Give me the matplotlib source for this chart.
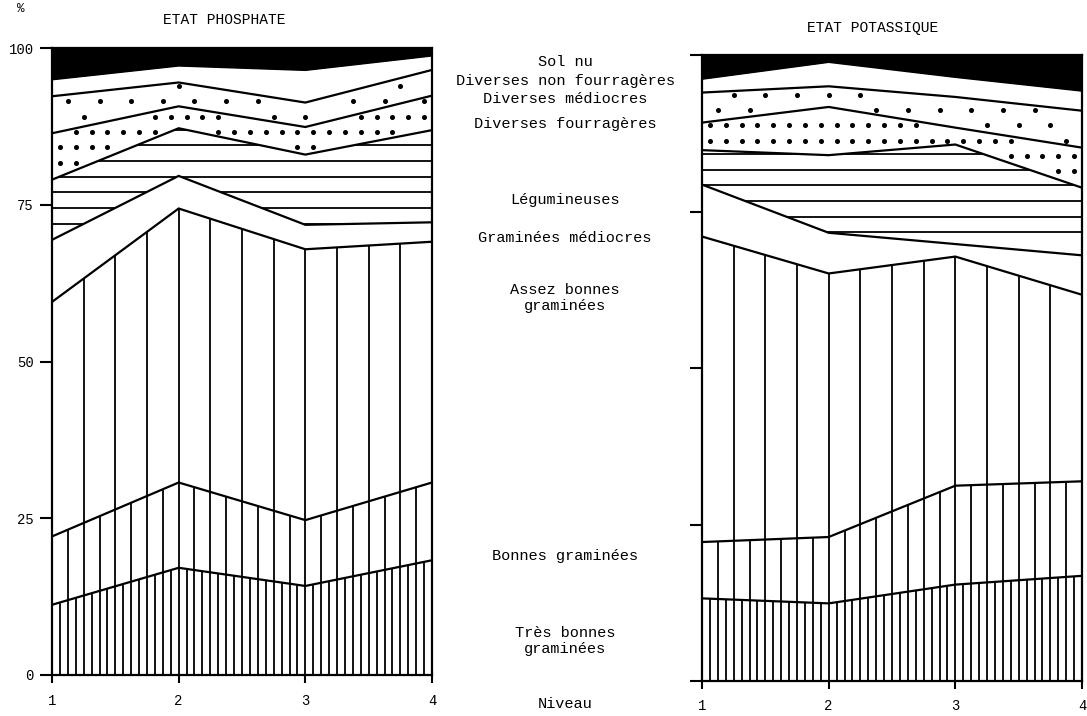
import numpy as np
import matplotlib
matplotlib.use("Agg")
import matplotlib.pyplot as plt
from matplotlib.patches import Polygon

# ---------------- data ----------------
levels = [1, 2, 3, 4]
level_labels = ["1", "2", "3", "4"]
categories = ["Très bonnes\ngraminées", "Bonnes graminées", "Assez bonnes\ngraminées",
              "Graminées médiocres", "Légumineuses", "Diverses fourragères",
              "Diverses médiocres", "Diverses non fourragères", "Sol nu"]
y_ticks = [0, 25, 50, 75, 100]
y_ticklabels = ["0", "25", "50", "75", "100"]

# Etat phosphate (% per category at each level)
phos_tres_bonnes = [11.2, 17.1, 14.2, 18.3]
phos_bonnes = [10.9, 13.6, 10.5, 12.4]
phos_assez_bonnes = [37.4, 43.7, 43.2, 38.4]
phos_gram_med = [9.9, 5.2, 3.9, 3.1]
phos_legum = [9.6, 7.6, 11.2, 14.7]
phos_div_fourr = [7.4, 3.5, 4.4, 5.5]
phos_div_med = [5.9, 3.8, 3.9, 4.1]
phos_div_non = [2.7, 2.7, 5.2, 2.3]
phos_sol_nu = [5.0, 2.8, 3.5, 1.2]

# Etat potassique
pot_tres_bonnes = [13.2, 12.4, 15.4, 16.8]
pot_bonnes = [9.0, 10.6, 15.8, 15.1]
pot_assez_bonnes = [48.8, 42.1, 36.6, 29.8]
pot_gram_med = [8.3, 6.5, 2.0, 6.3]
pot_legum = [5.5, 12.4, 15.9, 10.8]
pot_div_fourr = [4.4, 7.7, 2.7, 6.4]
pot_div_med = [4.8, 3.3, 4.9, 5.9]
pot_div_non = [2.2, 3.9, 3.2, 3.2]
pot_sol_nu = [3.8, 1.1, 3.5, 5.7]

phos = [phos_tres_bonnes, phos_bonnes, phos_assez_bonnes, phos_gram_med, phos_legum,
        phos_div_fourr, phos_div_med, phos_div_non, phos_sol_nu]
pot = [pot_tres_bonnes, pot_bonnes, pot_assez_bonnes, pot_gram_med, pot_legum,
       pot_div_fourr, pot_div_med, pot_div_non, pot_sol_nu]

FONT = ["Liberation Mono", "DejaVu Sans Mono"]
plt.rcParams["font.family"] = FONT

W, H = 1087, 716
fig = plt.figure(figsize=(W / 100, H / 100), dpi=100)


def fx(px):
    return px / W


def fy(py):
    return 1 - py / H


LW = 1.6
HLW = 1.3


def draw_chart(ax, series, show_labels, hline_start, xpad):
    x = np.array(levels, dtype=float)
    data = np.array(series, dtype=float)
    tops = np.cumsum(data, axis=0)
    bottoms = np.vstack([np.zeros(len(x)), tops[:-1]])

    def clip_patch(lo, hi):
        verts = np.column_stack([np.concatenate([x, x[::-1]]),
                                 np.concatenate([hi, lo[::-1]])])
        return Polygon(verts, closed=True, transform=ax.transData)

    # fills (white, last one black)
    for i in range(len(data)):
        ax.fill_between(x, bottoms[i], tops[i],
                        color="black" if i == len(data) - 1 else "white",
                        lw=0, zorder=1)

    # vertical hatching for the three grass classes
    for i, step in [(0, 1 / 16), (1, 1 / 8), (2, 1 / 4)]:
        xs = np.arange(x[0], x[-1] + 1e-9, step)
        ax.vlines(xs, np.interp(xs, x, bottoms[i]), np.interp(xs, x, tops[i]),
                  color="black", lw=HLW, zorder=2)

    # horizontal hatching for legumineuses
    ys = np.arange(hline_start, 100, 2.5)
    hl = ax.hlines(ys, x[0], x[-1], color="black", lw=HLW, zorder=2)
    hl.set_clip_path(clip_patch(bottoms[4], tops[4]))

    # dots for diverses fourrageres (dense) and diverses mediocres (sparse)
    rows = np.arange(hline_start - 0.1, 100, 2.45)
    for i, step, off in [(5, 1 / 8, 1 / 16), (6, 1 / 4, 1 / 8)]:
        xs = np.arange(x[0] + off, x[-1], step)
        gx, gy = np.meshgrid(xs, rows)
        gx = gx + (np.arange(len(rows))[:, None] % 2) * step / 2 * (i == 6)
        gx, gy = gx.ravel(), gy.ravel()
        lo = np.interp(gx, x, bottoms[i])
        hi = np.interp(gx, x, tops[i])
        m = (gy > lo + 0.6) & (gy < hi - 0.5) & (gx < x[-1] - 0.03)
        ax.plot(gx[m], gy[m], "o", color="black", ms=2.6, zorder=2)

    # boundary lines
    for i in range(len(data) - 1):
        ax.plot(x, tops[i], color="black", lw=LW, zorder=3, solid_joinstyle="miter")

    ax.set_xlim(1, 4)
    ax.set_ylim(0, 100)
    for s in ax.spines.values():
        s.set_linewidth(LW)
        s.set_zorder(4)
    ax.set_xticks(levels)
    ax.set_xticklabels(level_labels, fontsize=10)
    ax.set_yticks(y_ticks)
    if show_labels:
        ax.set_yticklabels(y_ticklabels, fontsize=10)
    else:
        ax.set_yticklabels([])
    ax.tick_params(axis="y", direction="out", length=9, width=1.5, pad=4)
    ax.tick_params(axis="x", direction="out", length=6, width=1.5, pad=xpad)
    ax.set_facecolor("white")


ax1 = fig.add_axes([fx(52), fy(675), fx(432) - fx(52), fy(48) - fy(675)])
ax2 = fig.add_axes([fx(702), fy(681), fx(1082) - fx(702), fy(55) - fy(681)])
draw_chart(ax1, phos, True, 72.0, 8)
draw_chart(ax2, pot, False, 71.7, 7)

fig.text(fx(224), fy(20), "ETAT PHOSPHATE", ha="center", va="center", fontsize=10.5)
fig.text(fx(873), fy(28), "ETAT POTASSIQUE", ha="center", va="center", fontsize=10.5)
fig.text(fx(21), fy(9), "%", ha="center", va="center", fontsize=9)

# middle legend labels (one per category, top to bottom)
label_y = {"Sol nu": 62, "Diverses non fourragères": 81, "Diverses médiocres": 99,
           "Diverses fourragères": 124, "Légumineuses": 200, "Graminées médiocres": 238,
           "Assez bonnes\ngraminées": 298, "Bonnes graminées": 556,
           "Très bonnes\ngraminées": 641}
for cat in categories:
    fig.text(fx(565), fy(label_y[cat]), cat, ha="center", va="center",
             fontsize=11, linespacing=1.25)
fig.text(fx(565), fy(704), "Niveau", ha="center", va="center", fontsize=11)

fig.savefig("out.png", dpi=100, facecolor="white")
